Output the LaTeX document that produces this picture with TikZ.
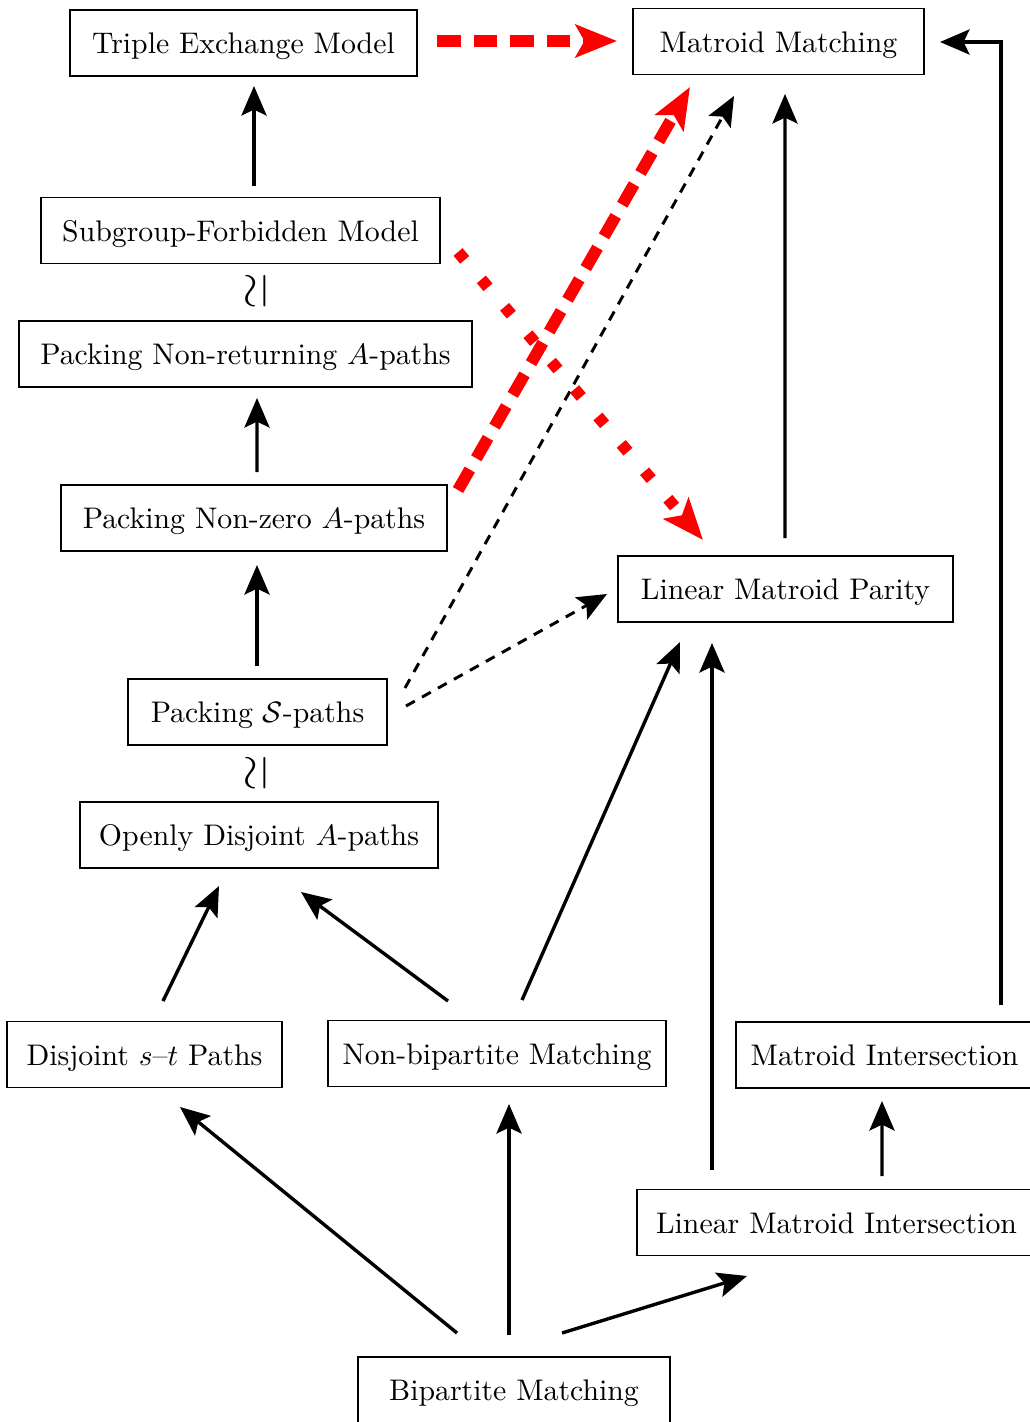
\documentclass[tikz,border=0pt]{standalone}
\usetikzlibrary{arrows.meta,calc}
\def\unitpx{0.339pt}
\tikzset{
  box/.style={draw, line width=0.5pt, minimum height=66*\unitpx, inner sep=0pt, text height=8.5pt, text depth=1.2pt, font=\fontsize{10.1}{12}\selectfont},
  blk/.style={line width=1.15pt, -{Stealth[length=10pt, width=8.5pt, inset=2pt]}},
  blkdash/.style={line width=1pt, dash pattern=on 3.4pt off 2.8pt, -{Stealth[length=10pt, width=8.5pt, inset=2pt]}},
  reddash/.style={red, line width=4pt, dash pattern=on 8pt off 4.4pt, -{Stealth[length=14pt, width=11pt, inset=3pt]}},
  reddot/.style={red, line width=4pt, dash pattern=on 3.5pt off 8.7pt, -{Stealth[length=14pt, width=11pt, inset=3pt]}},
  iso/.style={inner sep=0pt, rotate=90, scale=1.6}
}
\begin{document}
\begin{tikzpicture}[x=\unitpx, y=-\unitpx]
\useasboundingbox (0,0) rectangle (1029,1422);
\node[box, minimum width=347*\unitpx] (tem) at (243.5,43) {Triple Exchange Model};
\node[box, minimum width=291*\unitpx] (mm) at (778.5,41.5) {Matroid Matching};
\node[box, minimum width=399*\unitpx] (sfm) at (240.5,230.5) {Subgroup-Forbidden Model};
\node[box, minimum width=453*\unitpx] (pnr) at (245.5,354) {Packing Non-returning $A$-paths};
\node[box, minimum width=386*\unitpx] (pnz) at (254,518) {Packing Non-zero $A$-paths};
\node[box, minimum width=335*\unitpx] (lmp) at (785.5,589) {Linear Matroid Parity};
\node[box, minimum width=259*\unitpx] (psp) at (257.5,712) {Packing $\mathcal{S}$-paths};
\node[box, minimum width=358*\unitpx] (oda) at (259,835) {Openly Disjoint $A$-paths};
\node[box, minimum width=275*\unitpx] (dst) at (144.5,1054.5) {Disjoint $s$--$t$ Paths};
\node[box, minimum width=338*\unitpx] (nbm) at (497,1053.5) {Non-bipartite Matching};
\node[box, minimum width=297*\unitpx] (mi) at (884.5,1055) {Matroid Intersection};
\node[box, minimum width=399*\unitpx] (lmi) at (836.5,1222.5) {Linear Matroid Intersection};
\node[box, minimum width=312*\unitpx] (bm) at (514,1390) {Bipartite Matching};
\node[iso] (iso1) at (257,291) {$\simeq$};
\node[iso] (iso2) at (257,773) {$\simeq$};

\draw[blk] ($(sfm)+(13.5,-44.5)$) -- ($(tem)+(10.5,43)$);
\draw[reddash] ($(tem)+(193.5,-2)$) -- ($(mm)+(-161.5,-0.5)$);
\draw[reddash] ($(pnz)+(204,-28)$) -- ($(mm)+(-88.5,45.5)$);
\draw[blkdash] ($(psp)+(147.5,-24)$) -- ($(mm)+(-44.5,54.5)$);
\draw[blkdash] ($(psp)+(148.5,-6)$) -- ($(lmp)+(-178.5,5)$);
\draw[reddot] ($(sfm)+(217.5,21.5)$) -- ($(lmp)+(-82.5,-49)$);
\draw[blk] ($(pnz)+(3,-46)$) -- ($(pnr)+(11.5,44)$);
\draw[blk] ($(psp)+(-0.5,-46)$) -- ($(pnz)+(3,47)$);
\draw[blk] ($(lmp)+(-0.5,-51)$) -- ($(mm)+(6.5,52.5)$);
\draw[blk] ($(mi)+(116.5,-50)$) |- ($(mm)+(161.5,0.5)$);
\draw[blk] ($(dst)+(18.5,-53.5)$) -- ($(oda)+(-40,51)$);
\draw[blk] ($(nbm)+(-49,-52.5)$) -- ($(oda)+(42,57)$);
\draw[blk] ($(nbm)+(25,-53.5)$) -- ($(lmp)+(-105.5,53)$);
\draw[blk] ($(lmi)+(-124.5,-52.5)$) -- ($(lmp)+(-73.5,54)$);
\draw[blk] ($(lmi)+(45.5,-46.5)$) -- ($(mi)+(-2.5,46)$);
\draw[blk] ($(bm)+(-57,-57)$) -- ($(dst)+(35.5,52.5)$);
\draw[blk] ($(bm)+(-5,-55)$) -- ($(nbm)+(12,50.5)$);
\draw[blk] ($(bm)+(48,-57)$) -- ($(lmi)+(-89.5,53.5)$);
\end{tikzpicture}
\end{document}
